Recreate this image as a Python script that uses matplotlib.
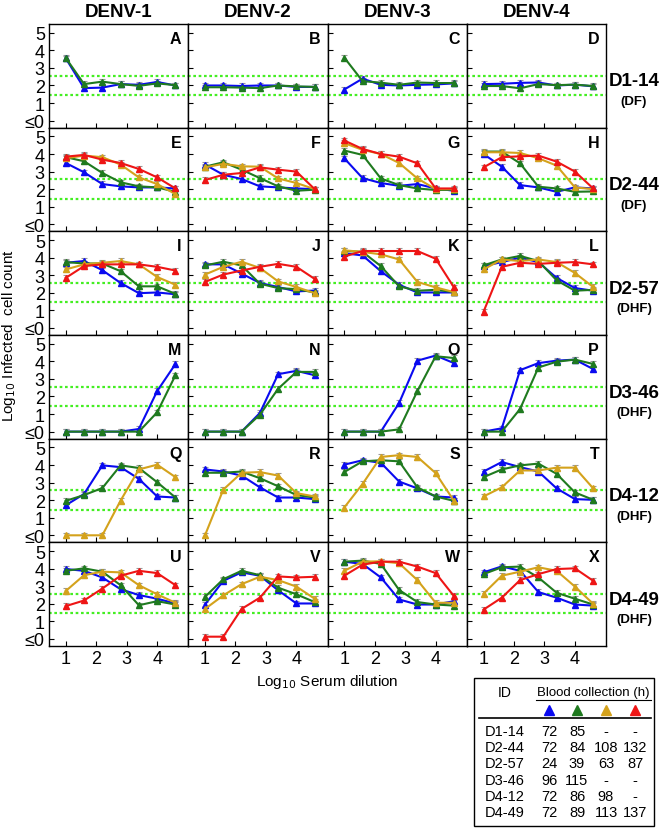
import matplotlib

matplotlib.use("Agg")
import matplotlib.pyplot as plt
from matplotlib.lines import Line2D
from matplotlib.patches import Rectangle

plt.rcParams["font.family"] = ["Liberation Sans", "DejaVu Sans"]

# --- data ---------------------------------------------------------------
x_dil = [1.0, 1.6, 2.2, 2.8, 3.4, 4.0, 4.6]

serotypes = ["DENV-1", "DENV-2", "DENV-3", "DENV-4"]
patients = ["D1-14", "D2-44", "D2-57", "D3-46", "D4-12", "D4-49"]
severity = ["(DF)", "(DF)", "(DHF)", "(DHF)", "(DHF)", "(DHF)"]
series_order = ["blue", "green", "gold", "red"]

# log10 infected cell count per panel, one list per blood collection
panel_A = {"blue": [3.55, 1.85, 1.88, 2.08, 2.04, 2.2, 2.0],
           "green": [3.57, 2.08, 2.22, 2.08, 1.98, 2.12, 2.02]}
panel_B = {"blue": [2.0, 2.0, 1.97, 2.0, 2.0, 1.92, 1.92],
           "green": [1.9, 1.9, 1.88, 1.85, 2.0, 1.95, 1.92]}
panel_C = {"blue": [1.77, 2.39, 2.04, 2.0, 2.04, 2.06, 2.12],
           "green": [3.59, 2.25, 2.16, 2.04, 2.17, 2.14, 2.14]}
panel_D = {"blue": [2.08, 2.1, 2.15, 2.17, 2.0, 2.05, 1.95],
           "green": [1.97, 1.97, 1.84, 2.08, 2.02, 2.05, 1.97]}

panel_E = {"blue": [3.49, 2.96, 2.29, 2.16, 2.1, 2.1, 2.04],
           "green": [3.82, 3.59, 2.92, 2.39, 2.16, 2.1, 1.85],
           "gold": [3.76, 3.91, 3.82, 3.4, 2.67, 2.29, 1.72],
           "red": [3.85, 3.95, 3.68, 3.49, 3.15, 2.67, 2.04]}
panel_F = {"blue": [3.4, 2.82, 2.58, 2.16, 2.1, 2.04, 2.0],
           "green": [3.28, 3.53, 3.11, 2.63, 2.16, 1.91, 1.97],
           "gold": [3.24, 3.44, 3.3, 3.28, 2.61, 2.35, 2.0],
           "red": [2.52, 2.82, 2.92, 3.24, 3.11, 3.0, 2.0]}
panel_G = {"blue": [3.76, 2.63, 2.35, 2.19, 2.29, 2.04, 1.91],
           "green": [4.2, 3.95, 2.61, 2.23, 2.04, 1.95, 1.97],
           "gold": [4.62, 4.24, 4.0, 3.49, 2.61, 2.0, 2.0],
           "red": [4.77, 4.29, 4.0, 3.85, 3.47, 2.04, 2.04]}
panel_H = {"blue": [4.0, 3.28, 2.23, 2.1, 1.85, 2.1, 2.04],
           "green": [4.14, 4.14, 3.47, 2.14, 2.04, 1.85, 1.87],
           "gold": [4.1, 4.1, 4.06, 3.76, 3.34, 2.1, 2.0],
           "red": [3.24, 3.82, 3.87, 3.91, 3.57, 3.0, 2.04]}

panel_I = {"blue": [3.71, 3.81, 3.29, 2.56, 1.98, 2.02, 1.92],
           "green": [3.75, 3.67, 3.67, 3.23, 2.37, 2.37, 1.94],
           "gold": [3.33, 3.62, 3.71, 3.81, 3.62, 2.9, 2.46],
           "red": [2.85, 3.52, 3.62, 3.62, 3.62, 3.48, 3.27]}
panel_J = {"blue": [3.62, 3.62, 3.1, 2.56, 2.33, 2.08, 2.13],
           "green": [3.56, 3.77, 3.56, 2.52, 2.27, 2.21, 2.02],
           "gold": [3.04, 3.48, 3.77, 3.42, 2.65, 2.33, 1.98],
           "red": [2.62, 3.04, 3.27, 3.48, 3.65, 3.48, 2.79]}
panel_K = {"blue": [4.25, 4.13, 3.23, 2.46, 2.02, 2.02, 2.02],
           "green": [4.38, 4.33, 3.52, 2.37, 2.12, 2.17, 2.04],
           "gold": [4.42, 4.33, 4.19, 3.9, 2.62, 2.31, 2.04],
           "red": [4.06, 4.38, 4.38, 4.38, 4.38, 3.94, 2.31]}
panel_L = {"blue": [3.52, 3.75, 4.0, 3.75, 2.85, 2.27, 2.12],
           "green": [3.56, 3.9, 4.1, 3.81, 2.71, 2.12, 2.17],
           "gold": [3.33, 3.9, 3.81, 3.9, 3.75, 3.13, 2.33],
           "red": [0.92, 3.48, 3.71, 3.65, 3.71, 3.75, 3.62]}

panel_M = {"blue": [0.0, 0.0, 0.0, 0.0, 0.15, 2.31, 3.85],
           "green": [0.0, 0.0, 0.0, 0.0, 0.0, 1.1, 3.21]}
panel_N = {"blue": [0.0, 0.0, 0.0, 1.06, 3.27, 3.46, 3.21],
           "green": [0.0, 0.0, 0.0, 0.96, 2.44, 3.4, 3.4]}
panel_O = {"blue": [0.0, 0.0, 0.0, 1.63, 4.04, 4.33, 3.9],
           "green": [0.0, 0.0, 0.0, 0.13, 2.31, 4.29, 4.19]}
panel_P = {"blue": [0.0, 0.19, 3.5, 3.9, 4.04, 4.1, 3.56],
           "green": [0.0, 0.0, 1.29, 3.65, 3.98, 4.1, 3.85]}

panel_Q = {"blue": [1.71, 2.35, 3.98, 3.88, 3.21, 2.21, 2.15],
           "green": [1.96, 2.29, 2.69, 3.98, 3.83, 3.02, 2.15],
           "gold": [0.0, 0.0, 0.0, 1.98, 3.75, 4.02, 3.31]}
panel_R = {"blue": [3.75, 3.63, 3.4, 2.73, 2.15, 2.15, 2.06],
           "green": [3.56, 3.56, 3.63, 3.25, 2.79, 2.29, 2.15],
           "gold": [0.0, 2.6, 3.56, 3.6, 3.4, 2.4, 2.21]}
panel_S = {"blue": [4.02, 4.27, 4.13, 3.06, 2.67, 2.21, 2.15],
           "green": [3.6, 4.21, 4.27, 4.21, 2.73, 2.21, 1.96],
           "gold": [1.58, 2.92, 4.46, 4.56, 4.46, 3.54, 1.96]}
panel_T = {"blue": [3.63, 4.17, 3.88, 3.63, 2.67, 2.06, 2.02],
           "green": [3.31, 3.75, 3.98, 4.08, 3.5, 2.44, 2.02],
           "gold": [2.21, 2.73, 3.69, 3.69, 3.85, 3.85, 2.67]}

panel_U = {"blue": [3.98, 3.88, 3.5, 2.83, 2.5, 2.29, 2.02],
           "green": [3.88, 4.02, 3.83, 3.06, 1.92, 2.15, 1.96],
           "gold": [2.73, 3.63, 3.83, 3.79, 3.06, 2.54, 2.06],
           "red": [1.87, 2.19, 2.87, 3.6, 3.88, 3.75, 3.06]}
panel_V = {"blue": [1.96, 3.31, 3.79, 3.6, 2.77, 2.02, 2.02],
           "green": [2.4, 3.4, 3.88, 3.63, 2.92, 2.54, 2.1],
           "gold": [1.71, 2.48, 3.12, 3.54, 3.35, 2.98, 2.29],
           "red": [0.13, 0.13, 1.71, 2.35, 3.56, 3.5, 3.54]}
panel_W = {"blue": [4.4, 4.27, 3.5, 2.25, 1.96, 1.96, 2.15],
           "green": [4.4, 4.46, 4.27, 2.79, 2.1, 1.96, 1.9],
           "gold": [3.88, 4.4, 4.42, 4.31, 3.35, 2.06, 2.06],
           "red": [3.6, 4.23, 4.4, 4.4, 4.12, 3.75, 2.44]}
panel_X = {"blue": [3.79, 4.13, 3.88, 2.67, 2.35, 1.96, 1.9],
           "green": [3.69, 4.08, 4.12, 3.5, 2.63, 2.29, 1.96],
           "gold": [2.58, 3.6, 3.83, 4.08, 3.88, 2.98, 2.0],
           "red": [1.67, 2.35, 3.35, 3.69, 3.98, 4.02, 3.31]}

panels = [
    ("A", panel_A), ("B", panel_B), ("C", panel_C), ("D", panel_D),
    ("E", panel_E), ("F", panel_F), ("G", panel_G), ("H", panel_H),
    ("I", panel_I), ("J", panel_J), ("K", panel_K), ("L", panel_L),
    ("M", panel_M), ("N", panel_N), ("O", panel_O), ("P", panel_P),
    ("Q", panel_Q), ("R", panel_R), ("S", panel_S), ("T", panel_T),
    ("U", panel_U), ("V", panel_V), ("W", panel_W), ("X", panel_X),
]
err = 0.15
cutoff_lines = [2.56, 1.46]

# blood collection times (h) for the table
bc_blue = ["72", "72", "24", "96", "72", "72"]
bc_green = ["85", "84", "39", "115", "86", "89"]
bc_gold = ["-", "108", "63", "-", "98", "113"]
bc_red = ["-", "132", "87", "-", "-", "137"]

colors = {"blue": "#0a0af0", "green": "#1f7a1f", "gold": "#d4a21c", "red": "#ee1515"}

# --- figure ----------------------------------------------------------------
W, H = 660, 829
fig, axes = plt.subplots(6, 4, figsize=(W / 100, H / 100), dpi=100,
                         sharex=True, sharey=True)
fig.subplots_adjust(left=49 / W, right=606 / W, top=1 - 25 / H,
                    bottom=1 - 647 / H, wspace=0, hspace=0)


def fx(px):
    return px / W


def fy(py):
    return 1 - py / H


for i, (letter, data) in enumerate(panels):
    ax = axes[i // 4, i % 4]
    for yc in cutoff_lines:
        ax.axhline(yc, color="#44ee22", ls=(0, (1.2, 1.2)), lw=1.6, zorder=1)
    for key in series_order:
        if key not in data:
            continue
        ax.errorbar(x_dil, data[key], yerr=err, color=colors[key],
                    ecolor="#999999", elinewidth=0.8, capsize=2, capthick=0.8,
                    marker="^", ms=4, lw=1.5, zorder=3)
    ax.text(0.95, 0.86, letter, transform=ax.transAxes, ha="right",
            va="center", fontsize=11.5, fontweight="bold")
    ax.set_xlim(0.45, 5.02)
    ax.set_ylim(-0.4, 5.5)
    ax.set_xticks([1, 2, 3, 4])
    ax.set_yticks([0, 1, 2, 3, 4, 5])
    ax.set_yticklabels(["≤0", "1", "2", "3", "4", "5"])
    ax.tick_params(direction="in", length=3.5, width=0.8, labelsize=13,
                   pad=3)
    for sp in ax.spines.values():
        sp.set_linewidth(1.0)

for c, name in enumerate(serotypes):
    ax = axes[0, c]
    ax.set_title(name, fontsize=13.5, fontweight="bold", pad=6)

for r, (pid, sev) in enumerate(zip(patients, severity)):
    ycen = 25 + 103.7 * r + 57
    fig.text(fx(634), fy(ycen), pid, ha="center", va="center",
             fontsize=13.5, fontweight="bold")
    fig.text(fx(634), fy(ycen + 20), sev, ha="center", va="center",
             fontsize=9.5, fontweight="bold")

fig.text(fx(9), fy(336), r"Log$_{10}$ Infected  cell count", rotation=90,
         ha="center", va="center", fontsize=11)
fig.text(fx(327), fy(682), r"Log$_{10}$ Serum dilution", ha="center",
         va="center", fontsize=11)

# --- table legend ----------------------------------------------------------
fig.patches.append(Rectangle((fx(474), fy(827)), fx(654) - fx(474),
                             fy(679) - fy(827), transform=fig.transFigure,
                             fill=False, lw=1.0, ec="black"))
fig.text(fx(505), fy(693), "ID", ha="center", va="center", fontsize=10)
fig.text(fx(593), fy(693), "Blood collection (h)", ha="center", va="center",
         fontsize=9.5)
fig.lines.append(Line2D([fx(536), fx(651)], [fy(701), fy(701)],
                        transform=fig.transFigure, color="black", lw=0.8))
fig.lines.append(Line2D([fx(479), fx(651)], [fy(719), fy(719)],
                        transform=fig.transFigure, color="black", lw=1.2))
col_x = [549, 577, 606, 635]
for cx, key in zip(col_x, series_order):
    fig.lines.append(Line2D([fx(cx)], [fy(711)], transform=fig.transFigure,
                            marker="^", ms=7, color=colors[key], lw=0))
for r, pid in enumerate(patients):
    yy = fy(732 + 16.2 * r)
    fig.text(fx(505), yy, pid, ha="center", va="center", fontsize=10.5)
    for cx, vals in zip(col_x, [bc_blue, bc_green, bc_gold, bc_red]):
        fig.text(fx(cx), yy, vals[r], ha="center", va="center", fontsize=10.5)

fig.savefig("out.png", dpi=100)
